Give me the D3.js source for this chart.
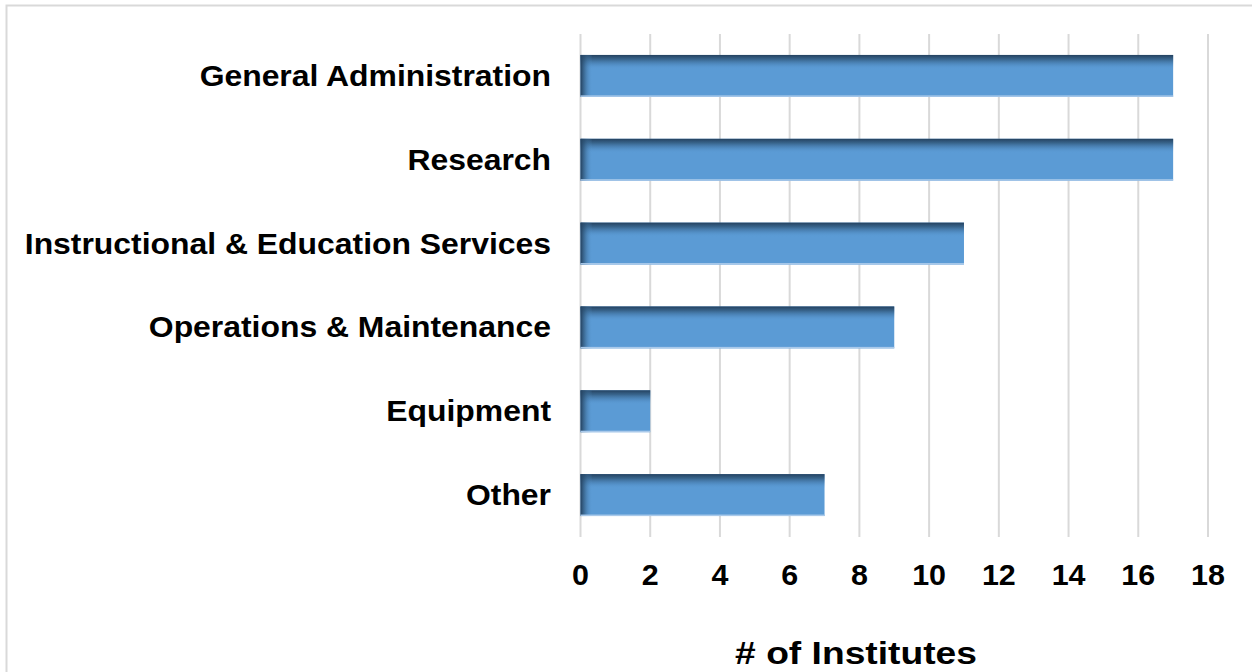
<!DOCTYPE html>
<html>
<head>
<meta charset="utf-8">
<script src="https://cdn.jsdelivr.net/npm/d3@7"></script>
<style>
  body { margin: 0; background: #fff; }
  text { font-family: "Liberation Sans", Arial, sans-serif; font-weight: bold; fill: #000; }
</style>
</head>
<body>
<div id="container"></div>
<script>
// chart data
var categories = ["General Administration", "Research", "Instructional & Education Services",
                  "Operations & Maintenance", "Equipment", "Other"];
var counts = [17, 17, 11, 9, 2, 7];
var tickValues = [0, 2, 4, 6, 8, 10, 12, 14, 16, 18];
var axisTitle = "# of Institutes";

var w = 1252, h = 672;
var svg = d3.select("#container").append("svg")
    .attr("width", w).attr("height", h);

// chart frame (only top/left visible)
svg.append("rect")
    .attr("x", 6.5).attr("y", 5.5)
    .attr("width", 1300).attr("height", 800)
    .attr("fill", "none").attr("stroke", "#d9d9d9").attr("stroke-width", 2);

var x = d3.scaleLinear().domain([0, 18]).range([580.5, 1208]);
var y = d3.scaleBand().domain(categories).range([34, 537])
    .paddingInner(0.5).paddingOuter(0.25);

var defs = svg.append("defs");
// top inner shadow
var gTop = defs.append("linearGradient").attr("id", "shTop")
    .attr("x1", 0).attr("y1", 0).attr("x2", 0).attr("y2", 1);
gTop.append("stop").attr("offset", 0).attr("stop-color", "#24415f").attr("stop-opacity", 1);
gTop.append("stop").attr("offset", 0.1).attr("stop-color", "#2f5679").attr("stop-opacity", 0.8);
gTop.append("stop").attr("offset", 0.22).attr("stop-color", "#3d6e9c").attr("stop-opacity", 0.35);
gTop.append("stop").attr("offset", 0.34).attr("stop-color", "#5b9bd5").attr("stop-opacity", 0);

// left inner shadow, fixed width in pixels
var gLeft = defs.append("linearGradient").attr("id", "shLeft")
    .attr("gradientUnits", "userSpaceOnUse")
    .attr("x1", x(0)).attr("y1", 0).attr("x2", x(0) + 12).attr("y2", 0);
gLeft.append("stop").attr("offset", 0).attr("stop-color", "#24415f").attr("stop-opacity", 1);
gLeft.append("stop").attr("offset", 0.35).attr("stop-color", "#2f5679").attr("stop-opacity", 0.6);
gLeft.append("stop").attr("offset", 1).attr("stop-color", "#5b9bd5").attr("stop-opacity", 0);

// gridlines
svg.append("g").selectAll("line")
    .data(tickValues)
    .enter().append("line")
    .attr("x1", function(d) { return x(d); })
    .attr("x2", function(d) { return x(d); })
    .attr("y1", 34).attr("y2", 537)
    .attr("stroke", "#d9d9d9").attr("stroke-width", 2);

// bars
var bars = svg.append("g").selectAll("g")
    .data(categories)
    .enter().append("g");

bars.append("rect")
    .attr("x", x(0))
    .attr("y", function(d) { return y(d); })
    .attr("width", function(d, i) { return x(counts[i]) - x(0); })
    .attr("height", y.bandwidth())
    .attr("fill", "#5b9bd5");
bars.append("rect")
    .attr("x", x(0))
    .attr("y", function(d) { return y(d); })
    .attr("width", function(d, i) { return x(counts[i]) - x(0); })
    .attr("height", y.bandwidth())
    .attr("fill", "url(#shTop)");
bars.append("rect")
    .attr("x", x(0))
    .attr("y", function(d) { return y(d); })
    .attr("width", function(d, i) { return Math.min(12, x(counts[i]) - x(0)); })
    .attr("height", y.bandwidth())
    .attr("fill", "url(#shLeft)");
// light bottom edge
bars.append("rect")
    .attr("x", x(0))
    .attr("y", function(d) { return y(d) + y.bandwidth() - 1.5; })
    .attr("width", function(d, i) { return x(counts[i]) - x(0); })
    .attr("height", 1.5)
    .attr("fill", "#a9c9ea");

// category labels
svg.append("g").selectAll("text")
    .data(categories)
    .enter().append("text")
    .attr("transform", function(d) {
        return "translate(551," + (y(d) + y.bandwidth() / 2 + 10) + ") scale(1.1,1)";
    })
    .attr("text-anchor", "end")
    .style("font-size", "29px")
    .text(function(d) { return d; });

// x tick labels
svg.append("g").selectAll("text")
    .data(tickValues)
    .enter().append("text")
    .attr("transform", function(d) { return "translate(" + x(d) + ",585) scale(1.05,1)"; })
    .attr("text-anchor", "middle")
    .style("font-size", "29px")
    .text(function(d) { return d; });

// axis title
svg.append("text")
    .attr("transform", "translate(856,664) scale(1.2,1)")
    .attr("text-anchor", "middle")
    .style("font-size", "31px")
    .text(axisTitle);
</script>
</body>
</html>
